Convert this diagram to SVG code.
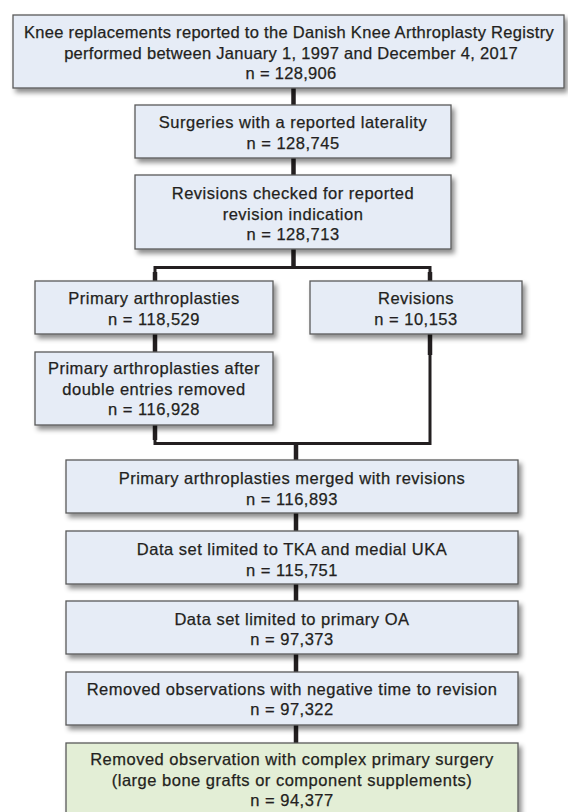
<svg xmlns="http://www.w3.org/2000/svg" width="568" height="812" viewBox="0 0 568 812">
<defs>
<filter id="sh" x="-10%" y="-20%" width="130%" height="160%">
<feDropShadow dx="3" dy="4" stdDeviation="2.5" flood-color="#000" flood-opacity="0.45"/>
</filter>
</defs>
<style>
.box{fill:#e6ecf6;stroke:#5a5a5a;stroke-width:1.3;filter:url(#sh)}
.green{fill:#e3eed6}
text{font-family:"Liberation Sans",Arial,Helvetica,sans-serif;font-size:16.5px;letter-spacing:0.5px;fill:#231f20;stroke:#231f20;stroke-width:0.25;text-anchor:middle}
.t1{letter-spacing:0.3px}
.ln{stroke:#231f20;stroke-width:3;fill:none}
.stub{stroke:#231f20;stroke-width:4.5;fill:none}
</style>
<rect width="568" height="812" fill="#fff"/>
<g id="connectors">
<line class="stub" x1="293.5" y1="88" x2="293.5" y2="105"/>
<line class="stub" x1="293.5" y1="158" x2="293.5" y2="175"/>
<line class="stub" x1="293.5" y1="249" x2="293.5" y2="268"/>
<polyline class="ln" points="155,281 155,267.5 430,267.5 430,281"/>
<line class="stub" x1="155" y1="272" x2="155" y2="281"/>
<line class="stub" x1="430" y1="272" x2="430" y2="281"/>
<line class="stub" x1="155" y1="334" x2="155" y2="352"/>
<line class="stub" x1="430" y1="334" x2="430" y2="355"/>
<polyline class="ln" points="155,425 155,443.5 430,443.5 430,334"/>
<line class="stub" x1="155" y1="425" x2="155" y2="440"/>
<line class="stub" x1="296" y1="443" x2="296" y2="460"/>
<line class="stub" x1="296" y1="513" x2="296" y2="531"/>
<line class="stub" x1="296" y1="584" x2="296" y2="601"/>
<line class="stub" x1="296" y1="654" x2="296" y2="672"/>
<line class="stub" x1="296" y1="725" x2="296" y2="743"/>
</g>
<g id="n1">
<rect class="box" x="13" y="15" width="551" height="73"/>
<text class="t1" x="289" y="38">Knee replacements reported to the Danish Knee Arthroplasty Registry</text>
<text class="t1" x="291" y="58.5">performed between January 1, 1997 and December 4, 2017</text>
<text class="t1" x="291" y="79">n = 128,906</text>
</g>
<g id="n2">
<rect class="box" x="135" y="105" width="316" height="53"/>
<text x="293" y="128">Surgeries with a reported laterality</text>
<text x="293" y="149">n = 128,745</text>
</g>
<g id="n3">
<rect class="box" x="135" y="175" width="316" height="74"/>
<text x="293" y="199">Revisions checked for reported</text>
<text x="293" y="219.5">revision indication</text>
<text x="293" y="240">n = 128,713</text>
</g>
<g id="n4">
<rect class="box" x="35" y="281" width="238" height="53"/>
<text x="154" y="304">Primary arthroplasties</text>
<text x="154" y="325">n = 118,529</text>
</g>
<g id="n5">
<rect class="box" x="310" y="281" width="212" height="53"/>
<text x="416" y="304">Revisions</text>
<text x="416" y="325">n = 10,153</text>
</g>
<g id="n6">
<rect class="box" x="35" y="352" width="238" height="73"/>
<text x="154" y="374">Primary arthroplasties after</text>
<text x="154" y="394.5">double entries removed</text>
<text x="154" y="415">n = 116,928</text>
</g>
<g id="n7">
<rect class="box" x="66" y="460" width="452" height="53"/>
<text x="292" y="484">Primary arthroplasties merged with revisions</text>
<text x="292" y="504.5">n = 116,893</text>
</g>
<g id="n8">
<rect class="box" x="66" y="531" width="452" height="53"/>
<text x="292" y="555">Data set limited to TKA and medial UKA</text>
<text x="292" y="575.5">n = 115,751</text>
</g>
<g id="n9">
<rect class="box" x="66" y="601" width="452" height="53"/>
<text x="292" y="624.5">Data set limited to primary OA</text>
<text x="292" y="645">n = 97,373</text>
</g>
<g id="n10">
<rect class="box" x="66" y="672" width="452" height="53"/>
<text x="292" y="694.5">Removed observations with negative time to revision</text>
<text x="292" y="715">n = 97,322</text>
</g>
<g id="n11">
<rect class="box green" x="66" y="743" width="452" height="76"/>
<text x="292" y="765">Removed observation with complex primary surgery</text>
<text x="292" y="785.5">(large bone grafts or component supplements)</text>
<text x="292" y="806">n = 94,377</text>
</g>
</svg>
